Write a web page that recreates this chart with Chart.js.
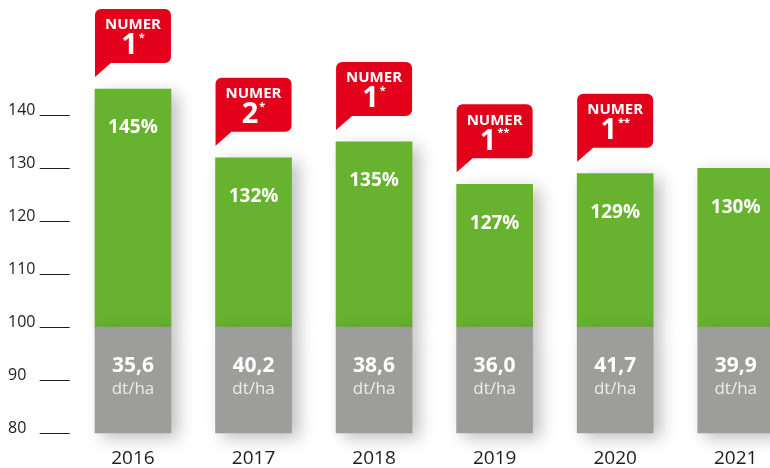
<!DOCTYPE html>
<html>
<head>
<meta charset="utf-8">
<script src="https://cdn.jsdelivr.net/npm/chart.js@4.4.1/dist/chart.umd.min.js"></script>
<style>
  html, body { margin: 0; padding: 0; background: #fff; overflow: hidden; }
  #wrap { width: 800px; height: 468px; }
</style>
</head>
<body>
<div id="wrap"><canvas id="chart" width="800" height="468"></canvas></div>
<script>
const years = ['2016', '2017', '2018', '2019', '2020', '2021'];
const relativeYield = [145, 132, 135, 127, 129, 130];
const absoluteYield = [35.6, 40.2, 38.6, 36.0, 41.7, 39.9];
const rankNumber = [1, 2, 1, 1, 1, null];
const rankMark = ['*', '*', '*', '**', '**', ''];
const yTicks = [80, 90, 100, 110, 120, 130, 140];
const baseLevel = 100;
const axisMin = 80;
const axisMax = 160;

const GREEN = '#67b22f';
const GRAY = '#9d9d9c';
const RED = '#e3001b';
const TEXT = '#1d1d1b';
const FONT = '"Open Sans", "DejaVu Sans", sans-serif';

// weicher Schatten rechts/unten an den Balken
const barShadow = {
    id: 'barShadow',
    beforeDatasetsDraw(chart) {
        const ctx = chart.ctx;
        ctx.save();
        ctx.shadowColor = 'rgba(0, 0, 0, 0.26)';
        ctx.shadowBlur = 16;
        ctx.shadowOffsetX = 7;
        ctx.shadowOffsetY = 5;
    },
    afterDatasetsDraw(chart) {
        chart.ctx.restore();
    }
};

// kurze Striche neben den Achsenbeschriftungen
const tickLines = {
    id: 'tickLines',
    afterDraw(chart) {
        const ctx = chart.ctx;
        const y = chart.scales.y;
        const left = chart.chartArea.left;
        ctx.save();
        ctx.strokeStyle = TEXT;
        ctx.lineWidth = 1;
        yTicks.forEach(v => {
            const py = Math.round(y.getPixelForValue(v)) + 0.5;
            ctx.beginPath();
            ctx.moveTo(left - 33, py);
            ctx.lineTo(left - 3, py);
            ctx.stroke();
        });
        ctx.restore();
    }
};

const barLabels = {
    id: 'barLabels',
    afterDraw(chart) {
        const ctx = chart.ctx;
        const grayMeta = chart.getDatasetMeta(0);
        const greenMeta = chart.getDatasetMeta(1);
        ctx.save();
        ctx.textAlign = 'center';
        ctx.textBaseline = 'middle';
        years.forEach((year, i) => {
            const g = greenMeta.data[i];
            const b = grayMeta.data[i];

            ctx.fillStyle = '#fff';
            ctx.font = `700 19px ${FONT}`;
            ctx.fillText(relativeYield[i] + '%', g.x, g.y + 39);

            ctx.font = `700 21px ${FONT}`;
            ctx.fillText(absoluteYield[i].toFixed(1).replace('.', ','), b.x, b.y + 39);
            ctx.fillStyle = '#ececec';
            ctx.font = `400 17px ${FONT}`;
            ctx.fillText('dt/ha', b.x, b.y + 62);

            if (rankNumber[i] !== null) drawBadge(ctx, g, rankNumber[i], rankMark[i]);
        });
        ctx.restore();
    }
};

function drawBadge(ctx, bar, num, mark) {
    const left = bar.x - bar.width / 2;
    const right = bar.x + bar.width / 2;
    const tip = bar.y - 12;
    const bottom = tip - 14;
    const top = bottom - 54;
    const r = 6;

    ctx.fillStyle = RED;
    ctx.beginPath();
    ctx.moveTo(left, tip);
    ctx.lineTo(left, top + r);
    ctx.arcTo(left, top, left + r, top, r);
    ctx.lineTo(right - r, top);
    ctx.arcTo(right, top, right, top + r, r);
    ctx.lineTo(right, bottom - r);
    ctx.arcTo(right, bottom, right - r, bottom, r);
    ctx.lineTo(left + 16, bottom);
    ctx.closePath();
    ctx.fill();

    ctx.fillStyle = '#fff';
    ctx.textAlign = 'center';
    ctx.textBaseline = 'middle';
    ctx.font = `700 15px ${FONT}`;
    ctx.fillText('NUMER', bar.x, top + 16);

    ctx.font = `700 29px ${FONT}`;
    const nw = ctx.measureText(String(num)).width;
    ctx.font = `700 11px ${FONT}`;
    const mw = ctx.measureText(mark).width + 1;
    const start = bar.x - (nw + mw) / 2;
    ctx.textAlign = 'left';
    ctx.font = `700 29px ${FONT}`;
    ctx.fillText(String(num), start, top + 37);
    ctx.font = `700 11px ${FONT}`;
    ctx.fillText(mark, start + nw + 1, top + 29);
    ctx.textAlign = 'center';
}

new Chart(document.getElementById('chart'), {
    type: 'bar',
    data: {
        labels: years,
        datasets: [
            {
                data: years.map(() => [axisMin, baseLevel]),
                backgroundColor: GRAY,
                grouped: false,
                clip: false
            },
            {
                data: relativeYield.map(v => [baseLevel, v]),
                backgroundColor: GREEN,
                grouped: false,
                clip: false
            }
        ]
    },
    options: {
        responsive: false,
        animation: false,
        barThickness: 76,
        layout: { padding: { left: 8, top: 9, right: 4, bottom: 0 } },
        plugins: {
            legend: { display: false },
            tooltip: { enabled: false }
        },
        scales: {
            x: {
                grid: { display: false, drawTicks: false },
                border: { display: false },
                ticks: {
                    color: TEXT,
                    font: { family: FONT, size: 19 },
                    padding: 14
                },
                afterFit: s => { s.height = 35; }
            },
            y: {
                min: axisMin,
                max: axisMax,
                grid: { display: false, drawTicks: false },
                border: { display: false },
                afterBuildTicks: s => { s.ticks = yTicks.map(v => ({ value: v })); },
                afterFit: s => { s.width = 64.7; },
                ticks: {
                    crossAlign: 'far',
                    labelOffset: -5,
                    padding: 0,
                    color: TEXT,
                    font: { family: FONT, size: 16 }
                }
            }
        }
    },
    plugins: [barShadow, tickLines, barLabels]
});
</script>
</body>
</html>
